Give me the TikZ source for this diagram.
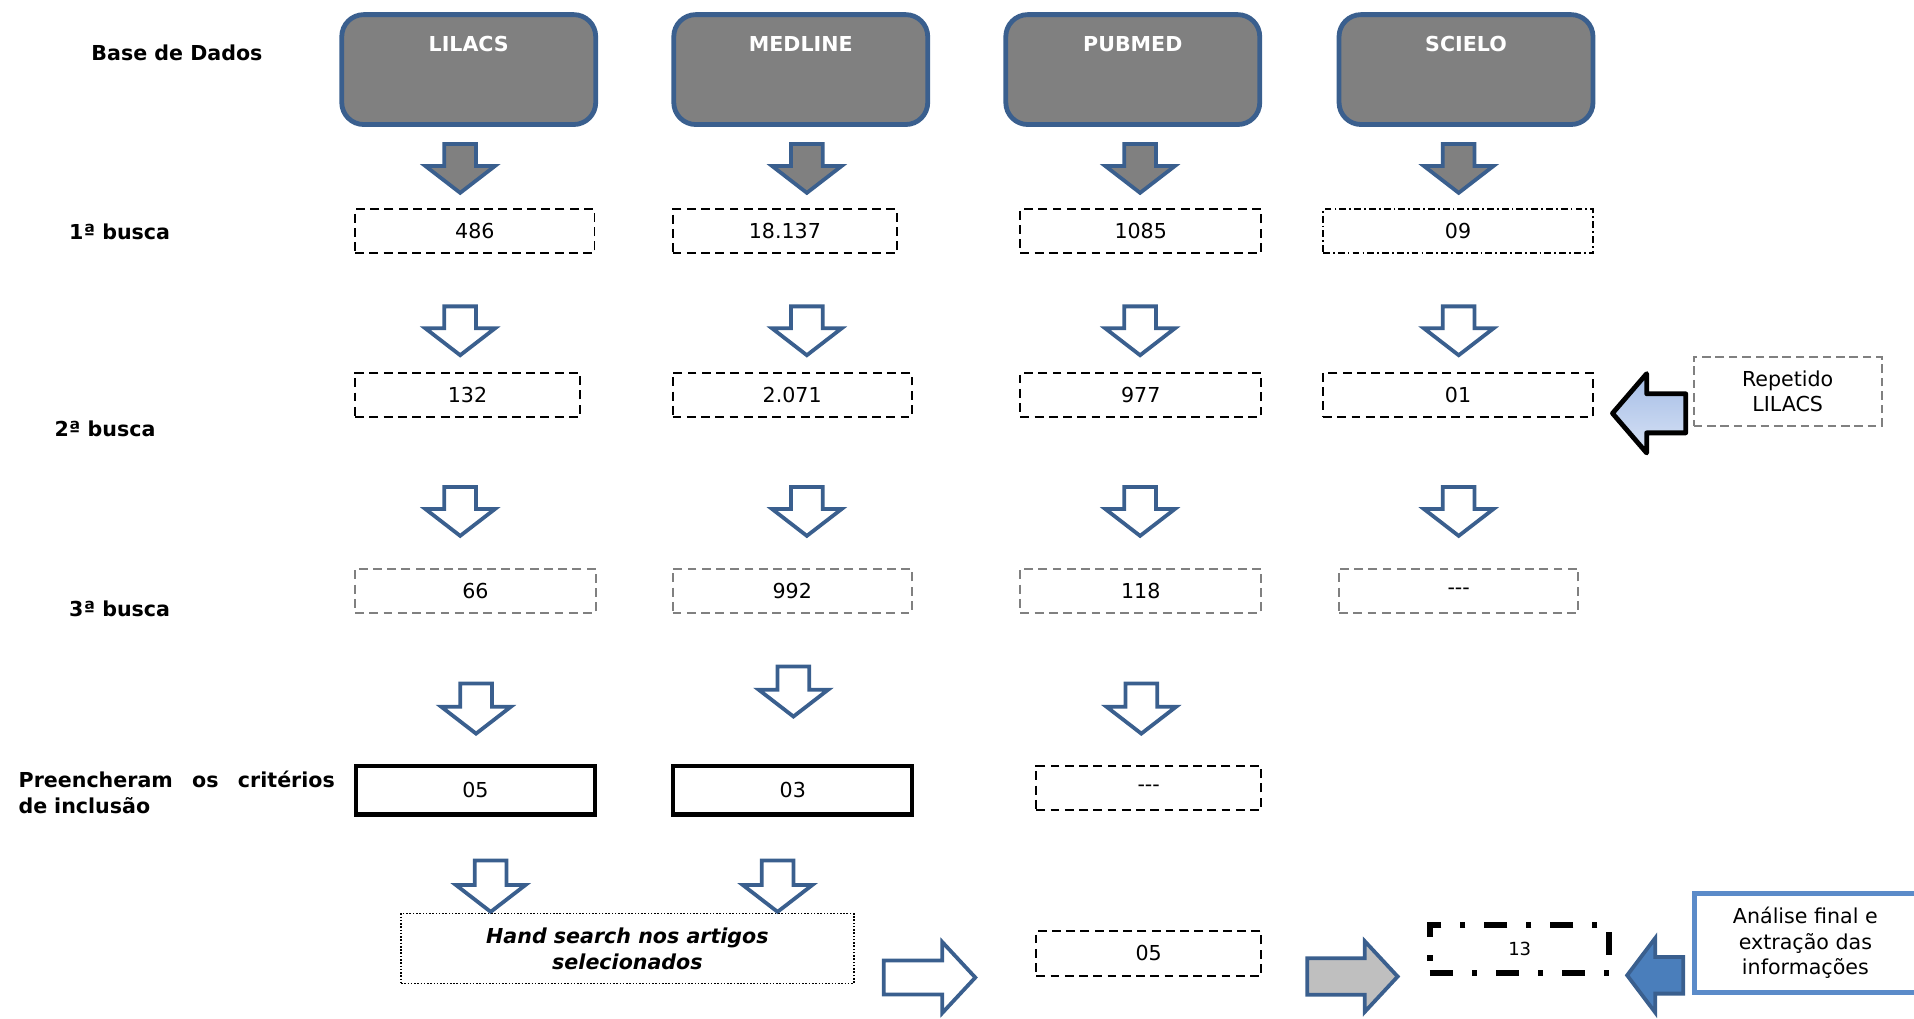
\documentclass[tikz,border=0pt]{standalone}
\usepackage{fontspec}
\setmainfont{DejaVu Sans}
\usetikzlibrary{positioning}
\definecolor{dbblue}{HTML}{3A5F8E}
\definecolor{dbgray}{HTML}{808080}
\definecolor{midblue}{HTML}{4A7EBB}
\definecolor{framblue}{HTML}{5B8BC9}
\definecolor{arrowgray}{HTML}{BFBFBF}
\definecolor{gradtop}{HTML}{A5BDE6}
\definecolor{gradbot}{HTML}{D7E2F5}
\newcommand{\txtfont}{\fontsize{12}{15}\selectfont}
\tikzset{
  rowlabel/.style  ={font=\txtfont\bfseries,inner sep=0pt},
  dbbox/.style     ={draw=dbblue,line width=2.8pt,fill=dbgray,rounded corners=0.45cm,
                     minimum width=5.2cm,minimum height=2.25cm},
  dbtitle/.style   ={anchor=center,yshift=-0.65cm,text=white,font=\txtfont\bfseries},
  numbox/.style    ={draw,line width=1.1pt,dash pattern=on 5.2pt off 3.1pt,inner sep=0pt,
                     font=\txtfont,minimum height=0.9cm},
  greybox/.style   ={numbox,draw=dbgray},
  dashdotbox/.style={numbox,dash pattern=on 4pt off 1.8pt on 1pt off 1.8pt},
  okbox/.style     ={draw,line width=2.4pt,inner sep=0pt,font=\txtfont,
                     minimum width=4.89cm,minimum height=0.99cm},
  handbox/.style   ={draw,line width=0.9pt,densely dotted,inner sep=0pt,align=center,
                     font=\txtfont\bfseries\itshape,minimum width=9.27cm,minimum height=1.43cm},
  totalbox/.style  ={draw,line width=3.5pt,dash pattern=on 13.5pt off 11pt on 3pt off 11pt,
                     inner sep=0pt,font=\fontsize{10.5}{13}\selectfont,
                     minimum width=3.675cm,minimum height=1.0cm},
  notebox/.style   ={draw=dbgray,line width=1.2pt,dash pattern=on 5pt off 2.8pt,inner sep=0pt,
                     align=center,font=\txtfont,minimum width=3.85cm,minimum height=1.42cm},
  finalbox/.style  ={draw=framblue,line width=3pt,inner sep=0pt,align=center,font=\txtfont,
                     minimum width=4.55cm,minimum height=2.03cm},
  blockarrow/.style={draw=dbblue,line width=2.2pt,line join=miter},
}
% block arrow pointing down: x, top, tip, options
\newcommand{\dnblock}[4]{%
  \draw[blockarrow,#4] (#1-13,#2) -- (#1+13,#2) -- (#1+13,#3-22) -- (#1+28.5,#3-22)
    -- (#1,#3) -- (#1-28.5,#3-22) -- (#1-13,#3-22) -- cycle;}
% horizontal block arrow: tail x, head base x, tip x, y, half shaft, half head, options
\newcommand{\hzblock}[7]{%
  \draw[blockarrow,#7] (#1,#4-#5) -- (#2,#4-#5) -- (#2,#4-#6) -- (#3,#4)
    -- (#2,#4+#6) -- (#2,#4+#5) -- (#1,#4+#5) -- cycle;}
\begin{document}
\begin{tikzpicture}[x=0.025cm,y=-0.025cm]
\useasboundingbox (0,0) rectangle (1568,834);
% row labels
\node[rowlabel] (lbase)  at (145,43)  {Base de Dados};
\node[rowlabel] (lone)   at (98,190)  {1ª busca};
\node[rowlabel] (ltwo)   at (86,351)  {2ª busca};
\node[rowlabel] (lthree) at (98,499)  {3ª busca};
\node[rowlabel,anchor=west,text width=6.475cm,align=left] (lcrit) at (15,649)
  {Preencheram\hfill os\hfill critérios\\de inclusão};
% databases
\node[dbbox,label={[dbtitle]north:LILACS}]  (lil) at (384,57)  {};
\node[dbbox,label={[dbtitle]north:MEDLINE}] (med) at (656,57)  {};
\node[dbbox,label={[dbtitle]north:PUBMED}]  (pub) at (928,57)  {};
\node[dbbox,label={[dbtitle]north:SCIELO}]  (sci) at (1201,57) {};
% arrows between the rows
\foreach \x in {377,661,934,1195} {\dnblock{\x}{118}{158}{fill=dbgray}}
\foreach \x in {377,661,934,1195} {\dnblock{\x}{251}{291}{fill=white}}
\foreach \x in {377,661,934,1195} {\dnblock{\x}{399}{439}{fill=white}}
\dnblock{390}{560}{601}{fill=white}
\dnblock{650}{546}{587}{fill=white}
\dnblock{935}{560}{601}{fill=white}
\dnblock{402}{705}{747}{fill=white}
\dnblock{637}{705}{747}{fill=white}
% 1a busca
\node[numbox,minimum width=4.9cm]     (lil1) at (389,189.5)    {486};
\node[numbox,minimum width=4.6cm]     (med1) at (643,189.5)    {18.137};
\node[numbox,minimum width=4.93cm]    (pub1) at (934.5,189.5)  {1085};
\node[dashdotbox,minimum width=5.53cm] (sci1) at (1194.5,189.5) {09};
% 2a busca
\node[numbox,minimum width=4.6cm]  (lil2) at (383,323.5)    {132};
\node[numbox,minimum width=4.9cm]  (med2) at (649,323.5)    {2.071};
\node[numbox,minimum width=4.93cm] (pub2) at (934.5,323.5)  {977};
\node[numbox,minimum width=5.53cm] (sci2) at (1194.5,323.5) {01};
\node[notebox] (rep) at (1464.5,320.6) {Repetido\\LILACS};
\hzblock{1381}{1349}{1321}{338.6}{16}{32.5}{draw=black,line width=2.8pt,line join=round,
  top color=gradtop,bottom color=gradbot}
% 3a busca
\node[greybox,minimum width=4.93cm] (lil3) at (389.5,484) {66};
\node[greybox,minimum width=4.9cm]  (med3) at (649,484)   {992};
\node[greybox,minimum width=4.93cm] (pub3) at (934.5,484) {118};
\node[greybox,minimum width=4.9cm]  (sci3) at (1195,484)  {-{}-{}-};
% criterios de inclusao
\node[okbox] (lil4) at (389.5,647.5) {05};
\node[okbox] (med4) at (649.5,647.5) {03};
\node[numbox,minimum width=4.6cm] (pub4) at (941,645.5) {-{}-{}-};
% hand search and final
\node[handbox] (hand) at (514,777) {Hand search nos artigos\\selecionados};
\hzblock{724}{772}{799}{800.8}{14}{29}{fill=white}
\node[numbox,minimum width=4.6cm,minimum height=0.93cm] (pub5) at (941,781) {05};
\hzblock{1071}{1118}{1145}{800}{15}{29}{fill=arrowgray}
\node[totalbox] (total) at (1245,777.5) {13};
\hzblock{1379}{1356}{1333}{799}{15}{30.5}{fill=midblue}
\node[finalbox] (final) at (1479,772.5) {Análise final e\\extração das\\informações};
\end{tikzpicture}
\end{document}
